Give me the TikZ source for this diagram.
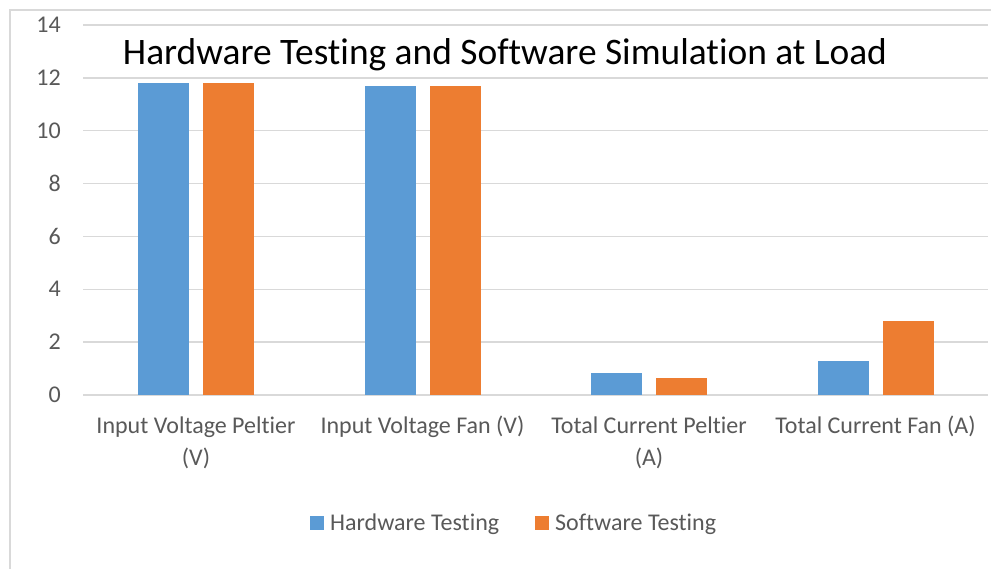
\documentclass[tikz,border=0pt]{standalone}
\usepackage{fontspec}
\setmainfont{Carlito}[Ligatures=NoCommon]
\definecolor{hwblue}{HTML}{5B9BD5}
\definecolor{sworange}{HTML}{ED7D31}
\definecolor{gridgray}{HTML}{D9D9D9}
\definecolor{labelgray}{HTML}{595959}
\begin{document}
\begin{tikzpicture}[x=1pt,y=-1pt,
  gridline/.style={gridgray,line width=1.5pt},
  ticklabel/.style={labelgray,inner sep=0pt,font=\fontsize{24}{29}\selectfont},
  catlabel/.style={labelgray,inner sep=0pt,align=center,font=\fontsize{24}{32}\selectfont},
  legendlabel/.style={labelgray,inner sep=0pt,font=\fontsize{24}{29}\selectfont},
  charttitle/.style={black,inner sep=0pt,font=\fontsize{37.4}{40}\selectfont},
  hwbar/.style={fill=hwblue},
  swbar/.style={fill=sworange}]
\useasboundingbox (0,0) rectangle (991,569);
\fill[white] (0,0) rectangle (991,569);
% chart frame
\draw[gridline] (10,569) -- (10,10) -- (991,10);
% horizontal grid and value axis labels
\foreach \v in {0,2,...,14}{
  \draw[gridline] (83,{395-\v*26.43}) -- (988,{395-\v*26.43});
  \node[ticklabel,anchor=east] (tick\v) at (61,{395-\v*26.43}) {\v};
}
% bars: category centre / hardware value / software value
\foreach \c/\a/\b [count=\i] in {196/11.8/11.8, 422.5/11.7/11.7, 649/0.82/0.63, 875.5/1.28/2.8}{
  \fill[hwbar] ({\c-58},395) rectangle ({\c-7},{395-\a*26.43});
  \fill[swbar] ({\c+7},395) rectangle ({\c+58},{395-\b*26.43});
}
% category labels (base anchor sits on the last line)
\node[catlabel,anchor=base] (cat1) at (196,465) {Input Voltage Peltier\\(V)};
\node[catlabel,anchor=base] (cat2) at (422.5,433) {Input Voltage Fan (V)};
\node[catlabel,anchor=base] (cat3) at (649,465) {Total Current Peltier\\(A)};
\node[catlabel,anchor=base] (cat4) at (875.5,433) {Total Current Fan (A)};
% title
\node[charttitle,anchor=base] (title) at (505,65) {Hardware Testing and Software Simulation at Load};
% legend
\fill[hwbar] (310,516) rectangle (324,530);
\node[legendlabel,anchor=base west] (leghw) at (330,530) {Hardware Testing};
\fill[swbar] (535,516) rectangle (549,530);
\node[legendlabel,anchor=base west] (legsw) at (555,530) {Software Testing};
\end{tikzpicture}
\end{document}
